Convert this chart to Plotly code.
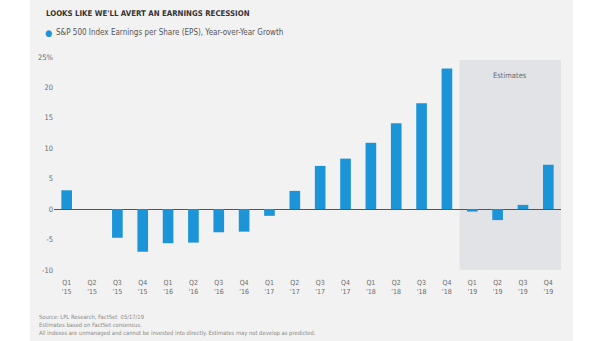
import plotly.graph_objects as go

quarters = ["Q1", "Q2", "Q3", "Q4"] * 5
years = ["'15"] * 4 + ["'16"] * 4 + ["'17"] * 4 + ["'18"] * 4 + ["'19"] * 4
categories = [f"{q}<br>{y}" for q, y in zip(quarters, years)]
eps_growth = [3.1, 0.0, -4.7, -7.0, -5.6, -5.5, -3.8, -3.7, -1.1, 3.0,
              7.1, 8.3, 10.9, 14.1, 17.4, 23.1, -0.4, -1.8, 0.7, 7.3]
y_ticks = [-10, -5, 0, 5, 10, 15, 20, 25]
y_tick_labels = ["-10", "-5", "0", "5", "10", "15", "20", "25%"]

FONT = "Liberation Sans Narrow, DejaVu Sans Condensed, Roboto, sans-serif"
BLUE = "#1b95d7"
GRAY_TXT = "#6b6b6b"

fig = go.Figure()
fig.add_trace(go.Bar(
    x=list(range(len(categories))), y=eps_growth, marker_color=BLUE,
    marker_line_width=0, width=0.42,
    name="S&P 500 Index Earnings per Share (EPS), Year-over-Year Growth",
    showlegend=False,
))

fig.update_layout(
    width=605, height=341,
    margin=dict(l=54, r=44, t=57, b=71),
    paper_bgcolor="white", plot_bgcolor="rgba(0,0,0,0)",
    font=dict(family=FONT, size=8, color=GRAY_TXT),
    showlegend=False,
    xaxis=dict(
        range=[-0.5, 19.5], tickmode="array",
        tickvals=list(range(len(categories))), ticktext=categories,
        showgrid=False, zeroline=False, showline=False, ticks="",
        ticklabelstandoff=7,
        tickfont=dict(size=7, color=GRAY_TXT),
    ),
    yaxis=dict(
        range=[-10, 25], tickmode="array", tickvals=y_ticks, ticktext=y_tick_labels,
        showgrid=False, zeroline=True, zerolinecolor="#555555", zerolinewidth=1,
        showline=False, ticks="", tickfont=dict(size=7.5, color=GRAY_TXT),
    ),
)

# panel background
fig.add_shape(type="rect", xref="paper", yref="paper",
              x0=(30 - 54) / 507, x1=(573 - 54) / 507,
              y0=(270 - 341) / 213, y1=(270 - 0) / 213,
              fillcolor="#f2f2f2", line_width=0, layer="below")
# estimates region
fig.add_shape(type="rect", xref="x", yref="y", x0=15.5, x1=19.5, y0=-10, y1=24.5,
              fillcolor="#e1e3e6", line_width=0, layer="below")
fig.add_annotation(x=17.5, y=22.0, xref="x", yref="y", text="Estimates", showarrow=False,
                   font=dict(size=7.5, color=GRAY_TXT))

# title
fig.add_annotation(x=(44 - 54) / 507, y=(270 - 14) / 213, xref="paper", yref="paper",
                   xanchor="left", yanchor="middle", showarrow=False,
                   text="<b>LOOKS LIKE WE'LL AVERT AN EARNINGS RECESSION</b>",
                   font=dict(size=7.8, color="#333333"))
# legend marker + text
fig.add_annotation(x=(48 - 54) / 507, y=(270 - 33) / 213, xref="paper", yref="paper",
                   xanchor="center", yanchor="middle", showarrow=False,
                   text="●", font=dict(size=9, color=BLUE))
fig.add_annotation(x=(54 - 54) / 507, y=(270 - 33) / 213, xref="paper", yref="paper",
                   xanchor="left", yanchor="middle", showarrow=False,
                   text="S&P 500 Index Earnings per Share (EPS), Year-over-Year Growth",
                   font=dict(size=8, color="#555555"))
# footnotes
notes = ["Source: LPL Research, FactSet  05/17/19",
         "Estimates based on FactSet consensus.",
         "All indexes are unmanaged and cannot be invested into directly. Estimates may not develop as predicted."]
for i, t in enumerate(notes):
    fig.add_annotation(x=(37 - 54) / 507, y=(270 - (317 + 8 * i)) / 213, xref="paper", yref="paper",
                       xanchor="left", yanchor="middle", showarrow=False, text=t,
                       font=dict(size=5.8, color="#8a8a8a"))

fig.write_html("out.html")
